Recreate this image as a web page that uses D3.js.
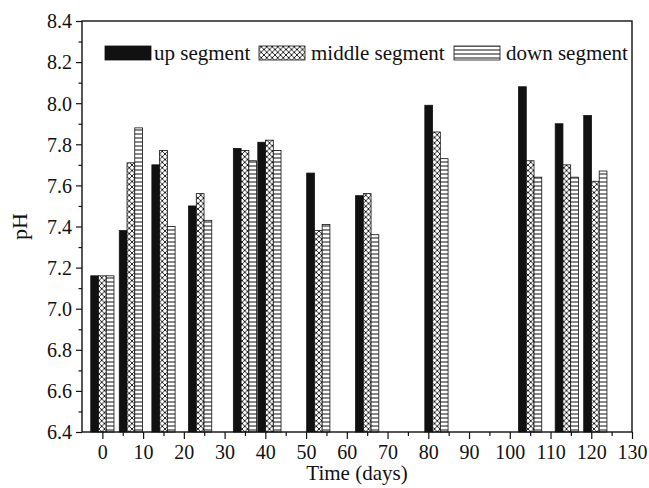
<!DOCTYPE html>
<html>
<head>
<meta charset="utf-8">
<script src="https://cdn.jsdelivr.net/npm/d3@7"></script>
<style>
body{margin:0;background:#fff}
</style>
</head>
<body>
<div id="chart"></div>
<script>
var days = [0, 7, 15, 24, 35, 41, 53, 65, 82, 105, 114, 121]
var upSeg = [7.16, 7.38, 7.70, 7.50, 7.78, 7.81, 7.66, 7.55, 7.99, 8.08, 7.90, 7.94]
var middleSeg = [7.16, 7.71, 7.77, 7.56, 7.77, 7.82, 7.38, 7.56, 7.86, 7.72, 7.70, 7.62]
var downSeg = [7.16, 7.88, 7.40, 7.43, 7.72, 7.77, 7.41, 7.36, 7.73, 7.64, 7.64, 7.67]
var seriesNames = ["up segment", "middle segment", "down segment"]
var xTicks = [0, 10, 20, 30, 40, 50, 60, 70, 80, 90, 100, 110, 120, 130]
var yTicks = [6.4, 6.6, 6.8, 7.0, 7.2, 7.4, 7.6, 7.8, 8.0, 8.2, 8.4]

var width = 649
var height = 488
var margin = {left:82, right:17, top:21, bottom:56}
var barDays = 1.9
var serif = "'Liberation Serif', 'Times New Roman', Times, serif"

var svg = d3.select("#chart").append("svg").attr("width",width).attr("height",height)
	.style("font-family", serif)
var defs = svg.append("defs")

var cross = defs.append("pattern").attr("id","cross").attr("patternUnits","userSpaceOnUse")
	.attr("width",5.5).attr("height",5.5)
cross.append("rect").attr("width",5.5).attr("height",5.5).attr("fill","#fff")
cross.append("path").attr("d","M0,0L5.5,5.5M5.5,0L0,5.5")
	.attr("stroke","#111").attr("stroke-width",0.9)

var hatch = defs.append("pattern").attr("id","hatch").attr("patternUnits","userSpaceOnUse")
	.attr("width",6).attr("height",4)
hatch.append("rect").attr("width",6).attr("height",4).attr("fill","#fff")
hatch.append("line").attr("x1",0).attr("x2",6).attr("y1",2).attr("y2",2)
	.attr("stroke","#111").attr("stroke-width",1)

var fills = ["#111", "url(#cross)", "url(#hatch)"]
var values = [upSeg, middleSeg, downSeg]

var x = d3.scaleLinear().domain([-5,130]).range([margin.left, width-margin.right])
var y = d3.scaleLinear().domain([6.4,8.4]).range([height-margin.bottom, margin.top])

// bars
for(var s=0; s<3; s++){
	svg.append("g").selectAll("rect")
		.data(days.map(function(d,i){return {day:d, v:values[s][i]}}))
		.enter().append("rect")
		.attr("x", function(d){return x(d.day + (s-1.5)*barDays)})
		.attr("width", x(barDays)-x(0))
		.attr("y", function(d){return y(d.v)})
		.attr("height", function(d){return y(6.4)-y(d.v)})
		.attr("fill", fills[s])
		.attr("stroke","#111").attr("stroke-width",0.8)
}

// axes
var xAxis = svg.append("g").attr("transform","translate(0,"+(height-margin.bottom)+")")
	.call(d3.axisBottom(x).tickValues(xTicks).tickSize(7).tickSizeOuter(0).tickFormat(d3.format("d")))
var xMinor = svg.append("g").attr("transform","translate(0,"+(height-margin.bottom)+")")
	.call(d3.axisBottom(x).tickValues(d3.range(5,130,10)).tickSize(4).tickFormat(""))
var yAxis = svg.append("g").attr("transform","translate("+margin.left+",0)")
	.call(d3.axisLeft(y).tickValues(yTicks).tickSize(6).tickSizeOuter(0).tickFormat(d3.format(".1f")))
var yMinor = svg.append("g").attr("transform","translate("+margin.left+",0)")
	.call(d3.axisLeft(y).tickValues(d3.range(6.5,8.4,0.2)).tickSize(3.5).tickFormat(""))

svg.selectAll(".domain").remove()
svg.selectAll(".tick line").attr("stroke","#111").attr("stroke-width",1.2)
svg.selectAll("g").attr("font-family", serif)
xAxis.selectAll("text").style("font-size","20px").style("font-family",serif).attr("fill","#111")
	.attr("dy",null).attr("y",27)
yAxis.selectAll("text").style("font-size","20px").style("font-family",serif).attr("fill","#111")
	.attr("x",-10).attr("dy","0.34em")

// frame
svg.append("rect").attr("x",margin.left).attr("y",margin.top)
	.attr("width",width-margin.left-margin.right).attr("height",height-margin.top-margin.bottom)
	.attr("fill","none").attr("stroke","#111").attr("stroke-width",1.4)

// axis titles
svg.append("text").text("Time (days)")
	.attr("x",(margin.left+width-margin.right)/2).attr("y",480)
	.attr("text-anchor","middle").style("font-size","21px").style("font-family",serif).attr("fill","#111")
svg.append("text").text("pH")
	.attr("transform","translate(27,"+((margin.top+height-margin.bottom)/2)+") rotate(-90)")
	.attr("text-anchor","middle").style("font-size","22px").style("font-family",serif).attr("fill","#111")

// legend
var legendPos = [{sx:105, tx:154}, {sx:259, tx:311}, {sx:454, tx:506}]
for(var k=0; k<3; k++){
	svg.append("rect").attr("x",legendPos[k].sx).attr("y",46)
		.attr("width",46).attr("height",14)
		.attr("fill",fills[k]).attr("stroke","#111").attr("stroke-width",0.8)
	svg.append("text").text(seriesNames[k])
		.attr("x",legendPos[k].tx).attr("y",60)
		.style("font-size","21px").style("font-family",serif).attr("fill","#111")
}
</script>
</body>
</html>
